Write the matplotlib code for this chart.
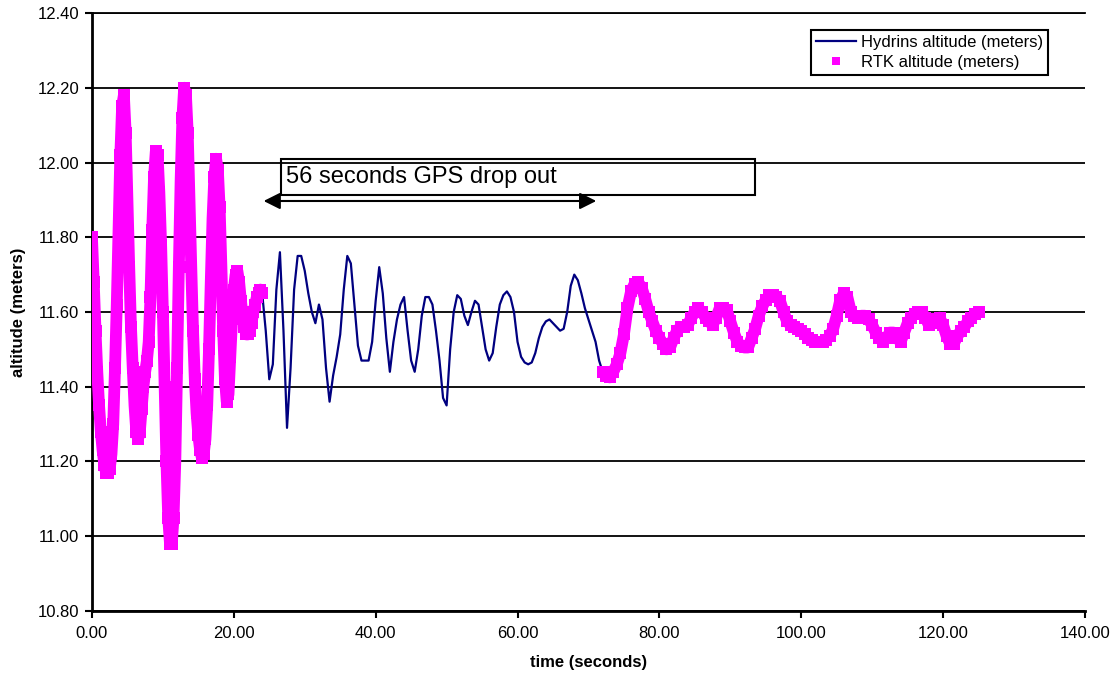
import numpy as np
import matplotlib
matplotlib.use('Agg')
import matplotlib.pyplot as plt
from matplotlib.patches import Rectangle

plt.rcParams['font.family'] = ['Liberation Sans', 'DejaVu Sans']

# RTK altitude before the drop out, one value every 0.25 s from t = 0
rtk_early = [11.80, 11.68, 11.55, 11.44, 11.35, 11.28, 11.23, 11.19, 11.17, 11.17,
             11.18, 11.22, 11.30, 11.45, 11.62, 11.82, 12.02, 12.15, 12.18, 12.08,
             11.90, 11.72, 11.56, 11.45, 11.35, 11.28, 11.26, 11.28, 11.34, 11.40,
             11.44, 11.47, 11.52, 11.64, 11.82, 11.96, 12.03, 12.02, 11.92, 11.78,
             11.60, 11.40, 11.20, 11.05, 10.98, 10.98, 11.05, 11.20, 11.45, 11.72,
             11.95, 12.12, 12.20, 12.18, 12.08, 11.90, 11.72, 11.55, 11.42, 11.33,
             11.27, 11.23, 11.21, 11.22, 11.26, 11.35, 11.50, 11.68, 11.85, 11.96,
             12.01, 11.98, 11.88, 11.72, 11.55, 11.42, 11.36, 11.38, 11.48, 11.58,
             11.66, 11.70, 11.71, 11.68, 11.63, 11.59, 11.56, 11.54, 11.54, 11.55,
             11.57, 11.60, 11.62, 11.64, 11.65, 11.66, 11.65]

# Hydrins altitude during the GPS drop out, every 0.5 s from t = 24.5
hyd_gap = [11.55, 11.42, 11.46, 11.66, 11.76, 11.55, 11.29, 11.45, 11.66, 11.75,
           11.75, 11.71, 11.65, 11.60, 11.57, 11.62, 11.58, 11.45, 11.36, 11.43,
           11.48, 11.54, 11.66, 11.75, 11.73, 11.62, 11.51, 11.47, 11.47, 11.47,
           11.52, 11.63, 11.72, 11.65, 11.53, 11.44, 11.52, 11.58, 11.62, 11.64,
           11.55, 11.47, 11.44, 11.50, 11.59, 11.64, 11.64, 11.62, 11.55, 11.47,
           11.37, 11.35, 11.50, 11.60, 11.645, 11.635, 11.59, 11.565, 11.60, 11.63,
           11.62, 11.56, 11.50, 11.47, 11.49, 11.56, 11.62, 11.645, 11.655, 11.64,
           11.60, 11.52, 11.48, 11.465, 11.46, 11.465, 11.49, 11.53, 11.56, 11.575,
           11.58, 11.57, 11.56, 11.55, 11.555, 11.60, 11.67, 11.70, 11.685, 11.65,
           11.61, 11.58, 11.55, 11.52, 11.47]

# RTK altitude after the drop out, every 0.5 s from t = 72
rtk_late = [11.44, 11.43, 11.425, 11.44, 11.46, 11.49, 11.54, 11.61, 11.655, 11.675,
            11.68, 11.665, 11.635, 11.60, 11.575, 11.55, 11.53, 11.515, 11.50, 11.505,
            11.53, 11.55, 11.56, 11.56, 11.565, 11.585, 11.60, 11.61, 11.60, 11.585,
            11.575, 11.565, 11.585, 11.61, 11.61, 11.605, 11.575, 11.545, 11.52, 11.51,
            11.505, 11.505, 11.53, 11.555, 11.59, 11.615, 11.632, 11.645, 11.645, 11.64,
            11.63, 11.60, 11.575, 11.565, 11.56, 11.555, 11.55, 11.54, 11.53, 11.525,
            11.52, 11.52, 11.52, 11.525, 11.535, 11.555, 11.59, 11.632, 11.65, 11.64,
            11.60, 11.59, 11.585, 11.59, 11.59, 11.58, 11.565, 11.545, 11.53, 11.52,
            11.53, 11.545, 11.545, 11.53, 11.52, 11.545, 11.57, 11.585, 11.595, 11.60,
            11.60, 11.585, 11.565, 11.57, 11.58, 11.585, 11.565, 11.535, 11.515, 11.515,
            11.535, 11.55, 11.56, 11.575, 11.585, 11.595, 11.60]

t_early = np.arange(len(rtk_early)) * 0.25
t_gap = 24.5 + np.arange(len(hyd_gap)) * 0.5
t_late = 72.0 + np.arange(len(rtk_late)) * 0.5

# Hydrins follows RTK where RTK is available
hyd_t = np.concatenate([t_early, t_gap, t_late])
hyd_alt = np.concatenate([rtk_early, hyd_gap, rtk_late])
rtk_t = np.concatenate([t_early, t_late])
rtk_alt = np.concatenate([rtk_early, rtk_late])

MAG = '#FF00FF'
NAVY = '#000080'

fig = plt.figure(figsize=(11.16, 6.74), dpi=100)
ax = fig.add_axes([0.0824, 0.0935, 0.8898, 0.8872])

ax.plot(hyd_t, hyd_alt, color=NAVY, lw=1.6, label='Hydrins altitude (meters)', zorder=3)
# dense RTK samples render as a solid band of squares
for tt, yy in [(t_early, rtk_early), (t_late, rtk_late)]:
    ax.plot(tt, yy, color=MAG, lw=8.5, solid_capstyle='butt', zorder=4)
ax.plot(rtk_t, rtk_alt, ls='none', marker='s', ms=8.5, mew=0, color=MAG,
        label='RTK altitude (meters)', zorder=4)

ax.set_xlim(0, 140)
ax.set_ylim(10.8, 12.4)
ax.set_xticks(np.arange(0, 141, 20))
ax.set_yticks(np.arange(10.8, 12.41, 0.2))
ax.xaxis.set_major_formatter(plt.FormatStrFormatter('%.2f'))
ax.yaxis.set_major_formatter(plt.FormatStrFormatter('%.2f'))
ax.yaxis.grid(True, color='black', lw=1.3)
ax.set_axisbelow(True)

for s in ['left', 'bottom']:
    ax.spines[s].set_linewidth(2)
ax.spines['top'].set_linewidth(1.3)
ax.spines['right'].set_visible(False)
ax.tick_params(direction='out', length=5, width=1.5, labelsize=12, color='black')
ax.tick_params(axis='x', pad=6)
ax.tick_params(axis='y', pad=4)

ax.set_xlabel('time (seconds)', fontsize=12, fontweight='bold')
ax.set_ylabel('altitude (meters)', fontsize=12, fontweight='bold')
ax.xaxis.set_label_coords(0.50, -0.073)
ax.yaxis.set_label_coords(-0.066, 0.5)

# annotation box and arrow
ax.add_patch(Rectangle((26.65, 11.913), 66.8, 0.097, fill=False,
                       edgecolor='black', lw=1.5, zorder=5))
ax.text(27.35, 11.962, '56 seconds GPS drop out', fontsize=17, va='center', zorder=6)
ax.annotate('', xy=(24.2, 11.897), xytext=(71.1, 11.897),
            arrowprops=dict(arrowstyle='<|-|>,head_length=0.5,head_width=0.25',
                            mutation_scale=20, color='black', lw=1.5,
                            shrinkA=0, shrinkB=0), zorder=6)

leg = ax.legend(loc='upper right', bbox_to_anchor=(0.9627, 0.9716), borderaxespad=0,
                fontsize=12, frameon=True, fancybox=False, handlelength=2.4,
                handletextpad=0.3, borderpad=0.3, labelspacing=0.3, markerscale=0.65)
leg.get_frame().set_edgecolor('black')
leg.get_frame().set_linewidth(1.5)
leg.get_frame().set_alpha(1)

fig.savefig('out.png', dpi=100)
